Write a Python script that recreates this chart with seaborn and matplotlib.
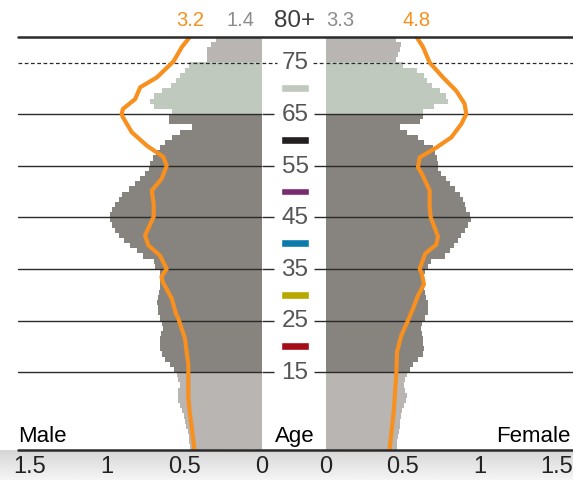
import numpy as np
import pandas as pd
import seaborn as sns
import matplotlib.pyplot as plt
from matplotlib.lines import Line2D

# single-year ages 0..79, values in % of population
ages = list(range(80))
male = [0.465, 0.469, 0.475, 0.48, 0.49, 0.497, 0.507, 0.518, 0.53, 0.54,
        0.545, 0.54, 0.529, 0.54, 0.55, 0.568, 0.594, 0.626, 0.647, 0.658,
        0.66, 0.66, 0.65, 0.64, 0.647, 0.66, 0.675, 0.675, 0.68, 0.675,
        0.665, 0.66, 0.658, 0.658, 0.66, 0.69, 0.70, 0.77, 0.808, 0.856,
        0.895, 0.927, 0.948, 0.97, 0.985, 0.985, 0.97, 0.948, 0.927, 0.905,
        0.862, 0.819, 0.79, 0.755, 0.733, 0.723, 0.705, 0.684, 0.658, 0.626,
        0.583, 0.53, 0.454, 0.60, 0.598, 0.583, 0.701, 0.723, 0.701, 0.647,
        0.587, 0.557, 0.529, 0.497, 0.469, 0.357, 0.357, 0.357, 0.33, 0.30]
female = [0.459, 0.463, 0.468, 0.474, 0.478, 0.48, 0.485, 0.493, 0.506, 0.52,
          0.528, 0.515, 0.506, 0.515, 0.528, 0.543, 0.565, 0.597, 0.63, 0.636,
          0.63, 0.63, 0.623, 0.619, 0.623, 0.641, 0.662, 0.664, 0.662, 0.651,
          0.641, 0.636, 0.63, 0.636, 0.641, 0.662, 0.684, 0.771, 0.803, 0.831,
          0.857, 0.879, 0.90, 0.922, 0.94, 0.933, 0.911, 0.90, 0.89, 0.868,
          0.835, 0.803, 0.781, 0.749, 0.73, 0.727, 0.723, 0.706, 0.695, 0.636,
          0.597, 0.528, 0.478, 0.608, 0.63, 0.63, 0.70, 0.795, 0.78, 0.74,
          0.69, 0.655, 0.636, 0.59, 0.50, 0.457, 0.468, 0.478, 0.485, 0.457]

# orange comparison profile
orange_age_m = [80, 78, 75.2, 72.1, 70.2, 67.9, 66, 65, 64.4, 61.5, 58.9, 56.7, 55,
                52.5, 50.2, 47.5, 45.1, 41.5, 39.6, 37.6, 35, 33.5, 32.5, 29.3,
                26.2, 25.4, 21.5, 16.4, 10, 7.8, 0]
orange_m = [0.465, 0.518, 0.572, 0.68, 0.787, 0.82, 0.899, 0.907, 0.899, 0.842, 0.745,
            0.638, 0.616, 0.648, 0.712, 0.70, 0.70, 0.756, 0.735, 0.66, 0.616, 0.65,
            0.642, 0.584, 0.555, 0.541, 0.498, 0.476, 0.476, 0.469, 0.437]
orange_age_f = [80, 78, 75, 72.1, 69.5, 67, 65, 63.1, 60.5, 58.5, 56.6, 54.7, 53.4,
                50.2, 47, 45, 41.3, 39.7, 38, 35, 34, 32, 29.8, 27.3, 24.7, 22.1,
                18.9, 15, 7.8, 0]
orange_f = [0.587, 0.63, 0.673, 0.76, 0.846, 0.90, 0.911, 0.879, 0.814, 0.716, 0.608,
            0.597, 0.623, 0.673, 0.673, 0.68, 0.727, 0.716, 0.645, 0.608, 0.623,
            0.636, 0.597, 0.565, 0.528, 0.489, 0.461, 0.457, 0.441, 0.413]

top_bar_m, top_bar_f = "1.4", "3.3"
top_line_m, top_line_f = "3.2", "4.8"
age_ticks = [15, 25, 35, 45, 55, 65]
marker_ages = [20, 30, 40, 50, 60, 70]
marker_colors = ["#a50d18", "#b8a800", "#0b7bab", "#7a2a6f", "#231f20", "#bfc9bd"]
x_ticks = [0, 0.5, 1, 1.5]
x_labels = ["0", "0.5", "1", "1.5"]

ORANGE = "#f7901e"
LINE = "#2a2a2a"
pal = {"light": "#b9b5b2", "dark": "#87837e", "green": "#bfc9bd"}


def group(a):
    if a < 15 or a >= 75:
        return "light"
    if a < 65:
        return "dark"
    return "green"


df = pd.DataFrame({"mid": [a + 0.5 for a in ages], "male": male, "female": female,
                   "group": [group(a) for a in ages]})

sns.set_theme(style="white")
plt.rcParams["font.family"] = ["Liberation Sans Narrow", "Liberation Sans", "DejaVu Sans"]

W, H = 573, 481
fig = plt.figure(figsize=(W / 100, H / 100), dpi=100)
fig.patch.set_facecolor("white")


def px(x0, y0, x1, y1):
    return [x0 / W, 1 - y1 / H, (x1 - x0) / W, (y1 - y0) / H]


# shaded strip behind the tick labels
bg = fig.add_axes(px(0, 451, W, H))
bg.imshow(np.linspace(0.84, 0.96, 50)[:, None], cmap="gray", vmin=0, vmax=1,
          aspect="auto", extent=[0, 1, 0, 1])
bg.axis("off")
bg.set_zorder(-5)

ax_m = fig.add_axes(px(18, 37.7, 262, 450.5))
ax_c = fig.add_axes(px(262, 37.7, 326, 450.5))
ax_f = fig.add_axes(px(326, 37.7, 573, 450.5))

for ax, col, xmax in [(ax_m, "male", 1.577), (ax_f, "female", 1.604)]:
    sns.barplot(data=df, x=col, y="mid", hue="group", palette=pal, orient="h",
                native_scale=True, width=1, dodge=False, saturation=1,
                linewidth=0, legend=False, ax=ax, zorder=1)
    for y in age_ticks:
        ax.axhline(y, color=LINE, lw=1, zorder=3)
    ax.axhline(75, color=LINE, lw=0.9, ls=(0, (3, 2)), zorder=3)
    ax.set_ylim(0, 80)
    ax.set_xlim(0, xmax)
    ax.set_xticks(x_ticks)
    ax.set_xticklabels(x_labels)
    ax.tick_params(axis="x", length=0, pad=4, labelsize=17, colors="#222222")
    ax.set_yticks([])
    ax.set_xlabel("")
    ax.set_ylabel("")
    ax.patch.set_alpha(0)
    for s in ax.spines.values():
        s.set_visible(False)

ax_m.invert_xaxis()

sns.lineplot(x=orange_m, y=orange_age_m, sort=False, estimator=None, color=ORANGE,
             lw=3, ax=ax_m, zorder=4)
sns.lineplot(x=orange_f, y=orange_age_f, sort=False, estimator=None, color=ORANGE,
             lw=3, ax=ax_f, zorder=4)
ax_m.set_ylim(0, 80)
ax_f.set_ylim(0, 80)

# labels above the 80+ line
ax_m.text(orange_m[0], 83.3, top_line_m, color=ORANGE, ha="center", va="center",
          fontsize=14.5, clip_on=False)
ax_m.text(0.136, 83.3, top_bar_m, color="#8c8c8c", ha="center", va="center",
          fontsize=14.5, clip_on=False)
ax_f.text(0.09, 83.3, top_bar_f, color="#8c8c8c", ha="center", va="center",
          fontsize=14.5, clip_on=False)
ax_f.text(orange_f[0], 83.3, top_line_f, color=ORANGE, ha="center", va="center",
          fontsize=14.5, clip_on=False)

ax_m.text(1.577, 1.6, "Male", ha="left", va="baseline", fontsize=16, color="black")
ax_f.text(1.585, 1.6, "Female", ha="right", va="baseline", fontsize=16, color="black")

# centre column: age labels and colour keys
ax_c.set_xlim(0, 1)
ax_c.set_ylim(0, 80)
ax_c.axis("off")
for y in age_ticks:
    ax_c.hlines(y, 0, 0.19, color=LINE, lw=1)
    ax_c.hlines(y, 0.81, 1, color=LINE, lw=1)
    ax_c.text(0.516, y, str(y), ha="center", va="center", fontsize=17.5, color="#555555")
ax_c.hlines(75, 0, 0.23, color=LINE, lw=0.9, ls=(0, (3, 2)))
ax_c.hlines(75, 0.8, 1, color=LINE, lw=0.9, ls=(0, (3, 2)))
ax_c.text(0.516, 75, "75", ha="center", va="center", fontsize=17.5, color="#555555")
ax_c.text(0.516, 83.3, "80+", ha="center", va="center", fontsize=17.5, color="#3c3c3c",
          clip_on=False)
ax_c.barh(marker_ages, 0.437, left=0.297, height=1.55, color=marker_colors)
ax_c.text(0.516, 1.6, "Age", ha="center", va="baseline", fontsize=16, color="black")

# full-width rules at top (80) and bottom (0)
for yy in (37.7, 450.5):
    fig.add_artist(Line2D([18 / W, 1], [1 - yy / H, 1 - yy / H], color=LINE, lw=1.8))

fig.savefig("out.png", dpi=100)
